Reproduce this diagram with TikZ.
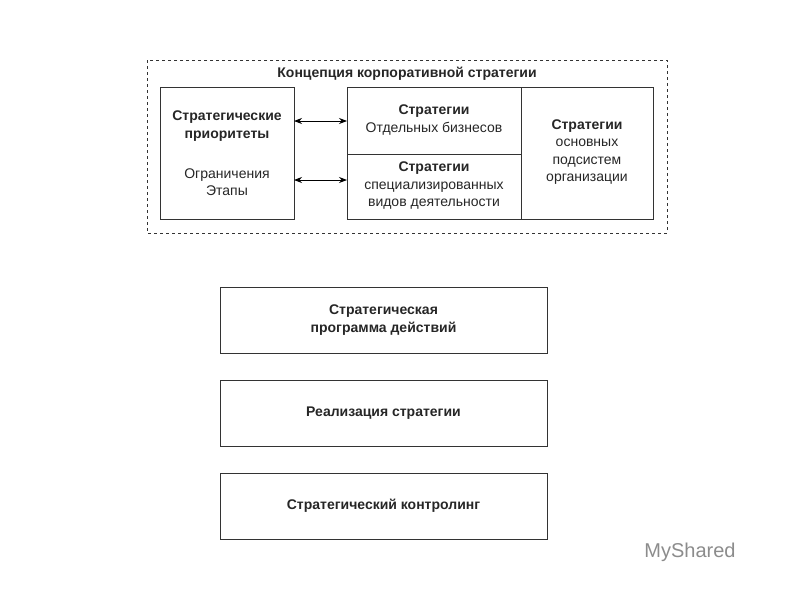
\documentclass[tikz,border=0pt]{standalone}
\usepackage{fontspec}
\setmainfont{Liberation Sans}
\usetikzlibrary{arrows.meta}
\begin{document}
\begin{tikzpicture}[x=1pt,y=-1pt,
  box/.style={draw=black!80,line width=0.8pt},
  txt/.style={align=center,text=black!85,font=\fontsize{14}{17.5}\selectfont},
  btxt/.style={align=center,text=black!85,font=\fontsize{14}{17.5}\selectfont\bfseries},
  arr/.style={{Stealth[length=8pt,width=6pt]}-{Stealth[length=8pt,width=6pt]},line width=0.8pt}]
\useasboundingbox (0,0) rectangle (800,600);
\draw[box,dashed,line width=0.6pt] (147,60) rectangle (667,233);
\node[btxt] (title) at (407,74) {Концепция корпоративной стратегии};
\draw[box] (160,87) rectangle (294,219);
\node[btxt] (prio) at (227,126) {Стратегические\\приоритеты};
\node[txt] (ogr) at (227,182) {Ограничения\\Этапы};
\draw[box] (347,87) rectangle (521,154);
\draw[box] (347,154) rectangle (521,219);
\draw[box] (521,87) rectangle (653,219);
\node[txt] (sb) at (434,120) {\textbf{Стратегии}\\Отдельных бизнесов};
\node[txt] (ss) at (434,186) {\textbf{Стратегии}\\специализированных\\видов деятельности};
\node[txt] (so) at (587,152) {\textbf{Стратегии}\\основных\\подсистем\\организации};
\coordinate (l1) at (294,121); \coordinate (r1) at (347,121);
\coordinate (l2) at (294,180); \coordinate (r2) at (347,180);
\draw[arr] (l1) -- (r1);
\draw[arr] (l2) -- (r2);
\node[box,btxt,minimum width=327pt,minimum height=66pt] (p) at (383.5,320) {Стратегическая\\программа действий};
\node[box,btxt,minimum width=327pt,minimum height=66pt] (r) at (383.5,413) {Реализация стратегии};
\node[box,btxt,minimum width=327pt,minimum height=66pt] (k) at (383.5,506) {Стратегический контролинг};
\node[text=black!45,font=\fontsize{20}{20}\selectfont] (wm) at (690,552) {MyShared};
\end{tikzpicture}
\end{document}
